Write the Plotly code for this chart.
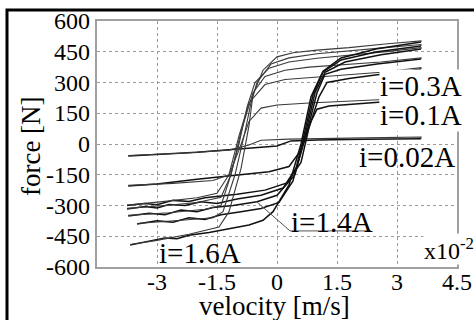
import plotly.graph_objects as go

# velocity in x10^-2 m/s, force in N ; each loop = lower branch (left->right) + upper branch (right->left)
loop_002_x = [-3.72, -2.0, -0.8, 0.0, 0.35, 1.0, 2.2, 3.6, 3.6, 2.2, 1.0, 0.3, -0.4, -0.7, -1.2, -2.4, -3.72]
loop_002_y = [-58, -40, -22, -10, 15, 20, 23, 25, 34, 30, 26, 24, 18, -5, -30, -45, -56]

loop_01_x = [-3.72, -3.0, -2.0, -1.0, -0.2, 0.3, 0.6, 0.85, 1.0, 1.3, 2.2, 3.6,
             3.6, 2.8, 1.6, 0.8, 0.0, -0.4, -0.7, -0.95, -1.2, -1.6, -2.6, -3.72]
loop_01_y = [-205, -195, -172, -150, -135, -110, -30, 110, 170, 185, 200, 220,
             228, 218, 208, 200, 190, 175, 110, -30, -150, -178, -192, -202]

loop_03_x = [-3.75, -3.3, -3.0, -2.6, -2.2, -1.8, -1.0, -0.3, 0.25, 0.6, 0.8, 1.05, 1.25, 1.8, 2.6, 3.6,
             3.6, 2.6, 1.6, 0.8, 0.2, -0.3, -0.7, -0.95, -1.2, -1.5, -2.0, -2.8, -3.75]
loop_03_y = [-300, -290, -296, -275, -280, -262, -245, -225, -190, -90, 80, 230, 300, 320, 340, 366,
             372, 350, 335, 325, 315, 290, 200, 40, -150, -240, -262, -280, -298]

loop_06_x = [-3.75, -3.3, -3.0, -2.7, -2.3, -1.9, -1.5, -1.0, -0.4, 0.15, 0.5, 0.75, 1.0, 1.2, 1.6, 2.5, 3.6,
             3.6, 2.6, 1.6, 0.8, 0.2, -0.3, -0.6, -0.9, -1.15, -1.4, -2.0, -2.8, -3.75]
loop_06_y = [-317, -305, -312, -295, -300, -282, -290, -268, -250, -215, -110, 60, 250, 340, 365, 390, 415,
             420, 400, 385, 375, 360, 330, 250, 60, -150, -260, -285, -300, -314]

loop_10_x = [-3.72, -3.2, -2.8, -2.4, -2.0, -1.6, -1.1, -0.5, 0.0, 0.45, 0.7, 0.95, 1.2, 1.7, 2.6, 3.6,
             3.6, 2.8, 1.8, 1.0, 0.3, -0.2, -0.55, -0.75, -0.95, -1.2, -1.4, -1.8, -2.7, -3.72]
loop_10_y = [-351, -338, -345, -322, -330, -310, -300, -282, -250, -150, 40, 250, 350, 400, 435, 463,
             470, 452, 432, 418, 400, 370, 300, 180, 0, -180, -300, -318, -335, -348]

loop_14_x = [-3.5, -3.0, -2.6, -2.2, -1.8, -1.4, -0.9, -0.4, 0.05, 0.4, 0.65, 0.9, 1.15, 1.6, 2.5, 3.6,
             3.6, 2.7, 1.8, 1.0, 0.3, -0.15, -0.5, -0.65, -0.8, -1.05, -1.35, -1.6, -2.4, -3.5]
loop_14_y = [-390, -375, -382, -360, -368, -345, -330, -315, -285, -180, 20, 240, 350, 410, 450, 478,
             485, 470, 455, 440, 420, 390, 300, 200, 60, -150, -330, -360, -372, -388]

loop_16_x = [-3.67, -3.2, -2.8, -2.5, -2.2, -1.7, -1.25, -0.7, -0.35, -0.1, 0.3, 0.6, 0.85, 1.15, 1.6, 2.5, 3.6,
             3.6, 2.7, 1.8, 1.0, 0.4, 0.0, -0.35, -0.6, -0.7, -0.9, -1.2, -1.45, -2.2, -3.0, -3.67]
loop_16_y = [-493, -475, -458, -462, -445, -432, -415, -395, -372, -330, -200, 0, 230, 355, 420, 465, 497,
             503, 488, 470, 458, 445, 425, 360, 240, 90, -120, -330, -405, -440, -470, -490]

loops = [
    (loop_002_x, loop_002_y),
    (loop_01_x, loop_01_y),
    (loop_03_x, loop_03_y),
    (loop_06_x, loop_06_y),
    (loop_10_x, loop_10_y),
    (loop_14_x, loop_14_y),
    (loop_16_x, loop_16_y),
]

x_ticks = [-3, -1.5, 0, 1.5, 3, 4.5]
x_tick_text = ["-3", "-1.5", "0", "1.5", "3", "4.5"]
x_grid = [-3, -1.5, 0, 1.5, 3]
y_ticks = [-600, -450, -300, -150, 0, 150, 300, 450, 600]
y_tick_text = ["-600", "-450", "-300", "-150", "0", "150", "300", "450", "600"]

serif = '"Liberation Serif", "Times New Roman", Times, "DejaVu Serif", serif'

fig = go.Figure()
for lx, ly in loops:
    turn = lx.index(max(lx))  # end of the rising (lower) branch
    fig.add_trace(go.Scatter(x=lx[:turn + 1], y=ly[:turn + 1], mode="lines",
                             line=dict(color="#111", width=1.5),
                             showlegend=False, hoverinfo="skip"))
    fig.add_trace(go.Scatter(x=lx[turn:], y=ly[turn:], mode="lines",
                             line=dict(color="#3a3a3a", width=1.1),
                             showlegend=False, hoverinfo="skip"))

fig.update_layout(
    width=474, height=320,
    margin=dict(l=97, r=17, t=21, b=53),
    paper_bgcolor="white", plot_bgcolor="white",
    font=dict(family=serif, color="black"),
    showlegend=False,
)
fig.update_xaxes(range=[-4.5, 4.5], tickvals=x_grid, showticklabels=False,
                 showgrid=True, gridcolor="#9a9a9a", griddash="dot", gridwidth=1,
                 zeroline=False, showline=True, mirror=True, linecolor="#a0a0a0", linewidth=1.5,
                 ticks="")
fig.update_yaxes(range=[-600, 600], tickvals=y_ticks, showticklabels=False,
                 showgrid=True, gridcolor="#9a9a9a", griddash="dot", gridwidth=1,
                 zeroline=False, showline=True, mirror=True, linecolor="#a0a0a0", linewidth=1.5,
                 ticks="")

tick_font = dict(family=serif, size=24, color="black")
for xv, xt in zip(x_ticks, x_tick_text):
    fig.add_annotation(x=xv, xref="x", y=-0.062, yref="paper", text=xt, showarrow=False,
                       xanchor="center", yanchor="middle", font=tick_font)
for yv, yt in zip(y_ticks, y_tick_text):
    fig.add_annotation(x=-0.013, xref="paper", y=yv, yref="y", text=yt, showarrow=False,
                       xanchor="right", yanchor="middle", font=tick_font)

ann_font = dict(family=serif, size=29, color="black")
fig.add_annotation(x=2.55, y=285, text="i=0.3A", showarrow=False, xanchor="left", yanchor="middle",
                   font=ann_font, bgcolor="white", borderpad=0)
fig.add_annotation(x=2.55, y=140, text="i=0.1A", showarrow=False, xanchor="left", yanchor="middle",
                   font=ann_font, bgcolor="white", borderpad=0)
fig.add_annotation(x=2.0, y=-62, text="i=0.02A", showarrow=False, xanchor="left", yanchor="middle",
                   font=ann_font)
fig.add_annotation(x=0.3, y=-380, text="i=1.4A", showarrow=False, xanchor="left", yanchor="middle",
                   font=ann_font)
fig.add_annotation(x=-3.0, y=-532, text="i=1.6A", showarrow=False, xanchor="left", yanchor="middle",
                   font=ann_font)
fig.add_annotation(x=3.65, y=-512, text="x10<sup>-2</sup>", showarrow=False, xanchor="left", yanchor="middle",
                   font=dict(family=serif, size=24, color="black"), bgcolor="white", borderpad=0)

# leader + underline for i=1.4A
fig.add_shape(type="line", x0=-0.5, y0=-283, x1=0.325, y1=-424, line=dict(color="#555", width=1))
fig.add_shape(type="line", x0=0.325, y0=-424, x1=2.35, y1=-424, line=dict(color="#555", width=1))

# axis titles
fig.add_annotation(xref="paper", yref="paper", x=0.494, y=-0.16, text="velocity [m/s]",
                   showarrow=False, xanchor="center", yanchor="middle",
                   font=dict(family=serif, size=27, color="black"))
fig.add_annotation(xref="paper", yref="paper", x=-0.183, y=0.492, text="force [N]", textangle=-90,
                   showarrow=False, xanchor="center", yanchor="middle",
                   font=dict(family=serif, size=27, color="black"))

# outer black frame (cut at right and bottom)
fig.add_shape(type="rect", xref="paper", yref="paper", x0=-0.25, y0=1.0447, x1=1.12, y1=-0.3,
              line=dict(color="black", width=3), layer="above")

fig.write_html("out.html")
